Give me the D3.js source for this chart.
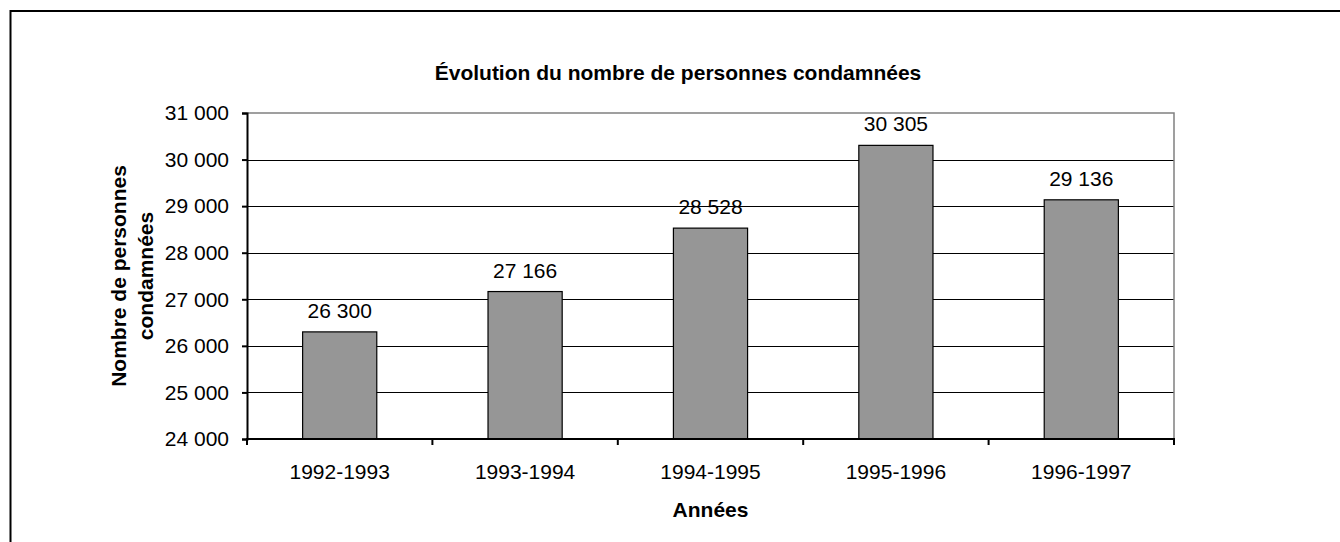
<!DOCTYPE html>
<html>
<head>
<meta charset="utf-8">
<script src="https://cdn.jsdelivr.net/npm/d3@7"></script>
<style>
  html, body { margin: 0; padding: 0; background: #fff; }
  svg { display: block; }
  text { font-family: "Liberation Sans", Arial, sans-serif; fill: #000; }
</style>
</head>
<body>
<svg id="chart" width="1340" height="542"></svg>
<script>
// ---- Data ----
const categories = ["1992-1993", "1993-1994", "1994-1995", "1995-1996", "1996-1997"];
const values = [26300, 27166, 28528, 30305, 29136];
const yTicks = [24000, 25000, 26000, 27000, 28000, 29000, 30000, 31000];
const titleText = "Évolution du nombre de personnes condamnées";
const xTitle = "Années";
const yTitleLines = ["Nombre de personnes", "condamnées"];

// ---- Layout ----
const W = 1340, H = 542;
const plot = { left: 247, right: 1174, top: 113, bottom: 439 };

const svg = d3.select("#chart");

const fr = d3.formatLocale({ decimal: ",", thousands: " ", grouping: [3], currency: ["", " €"] });
const fmt = fr.format(",d");

// Outer chart border (extends beyond the visible window)
svg.append("rect")
  .attr("x", 10.5).attr("y", 11)
  .attr("width", 1400).attr("height", 600)
  .attr("fill", "none").attr("stroke", "#000").attr("stroke-width", 2);

const x = d3.scaleBand()
  .domain(categories)
  .range([plot.left, plot.right])
  .paddingInner(0.6)
  .paddingOuter(0.3);

const y = d3.scaleLinear()
  .domain([yTicks[0], yTicks[yTicks.length - 1]])
  .range([plot.bottom, plot.top]);

// Gridlines
svg.append("g")
  .selectAll("line")
  .data(yTicks.slice(1, -1))
  .join("line")
  .attr("x1", plot.left).attr("x2", plot.right)
  .attr("y1", d => Math.round(y(d)) + 0.5).attr("y2", d => Math.round(y(d)) + 0.5)
  .attr("stroke", "#000").attr("stroke-width", 1);

// Plot area top & right border (gray)
svg.append("path")
  .attr("d", `M${plot.left},${plot.top}H${plot.right}V${plot.bottom}`)
  .attr("fill", "none").attr("stroke", "#808080").attr("stroke-width", 1.5);

// Bars
svg.append("g")
  .selectAll("rect")
  .data(values)
  .join("rect")
  .attr("x", (d, i) => x(categories[i]))
  .attr("width", x.bandwidth())
  .attr("y", d => y(d))
  .attr("height", d => y(yTicks[0]) - y(d))
  .attr("fill", "#969696")
  .attr("stroke", "#000")
  .attr("stroke-width", 1.2);

// Value labels
svg.append("g")
  .selectAll("text")
  .data(values)
  .join("text")
  .attr("x", (d, i) => x(categories[i]) + x.bandwidth() / 2)
  .attr("y", d => y(d) - 14)
  .attr("text-anchor", "middle")
  .style("font-size", "21px")
  .text(d => fmt(d));

// Y axis
const yAxis = d3.axisLeft(y).tickValues(yTicks).tickFormat(fmt).tickSize(5).tickPadding(13);
const gy = svg.append("g").attr("transform", `translate(${plot.left},0)`).call(yAxis);
gy.select(".domain").attr("stroke", "#000").attr("stroke-width", 2);
gy.selectAll(".tick line").attr("stroke", "#000").attr("stroke-width", 2);
gy.selectAll(".tick text")
  .style("font-size", "21px")
  .style("font-family", '"Liberation Sans", Arial, sans-serif')
  .attr("fill", "#000");

// X axis: ticks at band boundaries
const boundaries = categories.map(c => x(c) - x.step() * x.paddingInner() / 2 - 0).map((v, i) => plot.left + i * x.step());
boundaries.push(plot.right);
const gx = svg.append("g");
gx.append("line")
  .attr("x1", plot.left - 1).attr("x2", plot.right + 1)
  .attr("y1", plot.bottom).attr("y2", plot.bottom)
  .attr("stroke", "#000").attr("stroke-width", 2);
gx.selectAll(".xt")
  .data(boundaries)
  .join("line")
  .attr("class", "xt")
  .attr("x1", d => d).attr("x2", d => d)
  .attr("y1", plot.bottom).attr("y2", plot.bottom + 6)
  .attr("stroke", "#000").attr("stroke-width", 2);
gx.selectAll(".xl")
  .data(categories)
  .join("text")
  .attr("class", "xl")
  .attr("x", d => x(d) + x.bandwidth() / 2)
  .attr("y", 479)
  .attr("text-anchor", "middle")
  .style("font-size", "21px")
  .text(d => d);

// Title
svg.append("text")
  .attr("x", 678).attr("y", 80)
  .attr("text-anchor", "middle")
  .style("font-size", "21px").style("font-weight", "bold")
  .text(titleText);

// X title
svg.append("text")
  .attr("x", (plot.left + plot.right) / 2).attr("y", 517)
  .attr("text-anchor", "middle")
  .style("font-size", "21px").style("font-weight", "bold")
  .text(xTitle);

// Y title (two lines, rotated)
const yt = svg.append("text")
  .attr("transform", `translate(0,${(plot.top + plot.bottom) / 2}) rotate(-90)`)
  .attr("text-anchor", "middle")
  .style("font-size", "21px").style("font-weight", "bold");
yTitleLines.forEach((line, i) => {
  yt.append("tspan")
    .attr("x", 0)
    .attr("y", i === 0 ? 126 : 153)
    .text(line);
});
</script>
</body>
</html>
